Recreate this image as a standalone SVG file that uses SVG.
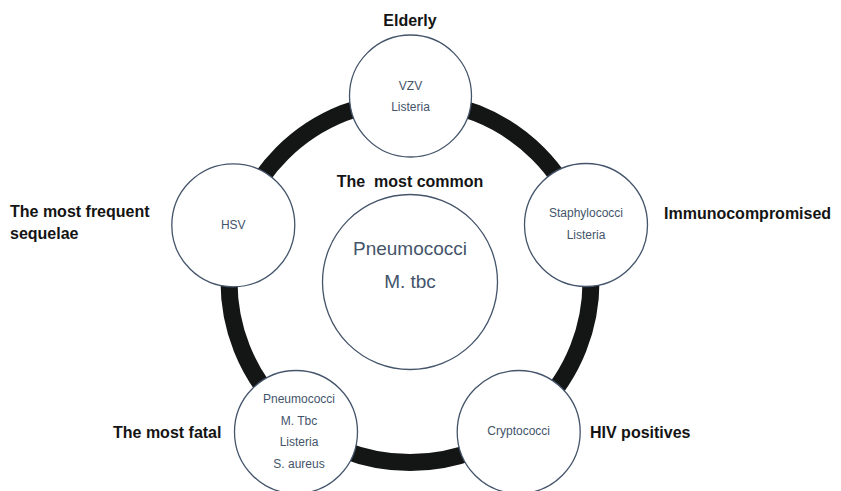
<svg xmlns="http://www.w3.org/2000/svg" width="841" height="491" viewBox="0 0 841 491">
<style>
.node{fill:#ffffff;stroke:#44546A;stroke-width:1.3}
.nt{font-family:"Liberation Sans",Arial,sans-serif;font-size:12px;fill:#44546A;text-anchor:middle}
.ct{font-family:"Liberation Sans",Arial,sans-serif;font-size:19px;fill:#44546A;text-anchor:middle}
.lbl{font-family:"Liberation Sans",Arial,sans-serif;font-size:16px;font-weight:bold;fill:#141414}
</style>
<rect width="841" height="491" fill="#ffffff"/>
<g id="connectors">
<circle cx="410" cy="281.5" r="181" fill="none" stroke="#141515" stroke-width="17"/>
</g>
<g id="center">
<circle class="node" cx="410" cy="282" r="87.5"/>
<text class="ct" x="410" y="255">Pneumococci</text>
<text class="ct" x="410" y="288">M. tbc</text>
<text class="lbl" x="410" y="187" text-anchor="middle" xml:space="preserve">The  most common</text>
</g>
<g id="elderly">
<circle class="node" cx="410.5" cy="96" r="61"/>
<text class="nt" x="410.5" y="90">VZV</text>
<text class="nt" x="410.5" y="111">Listeria</text>
<text class="lbl" x="410" y="26" text-anchor="middle">Elderly</text>
</g>
<g id="immunocompromised">
<circle class="node" cx="586" cy="225" r="61.5"/>
<text class="nt" x="586" y="217">Staphylococci</text>
<text class="nt" x="586" y="239">Listeria</text>
<text class="lbl" x="664" y="219">Immunocompromised</text>
</g>
<g id="hiv">
<circle class="node" cx="518.7" cy="432" r="61.5"/>
<text class="nt" x="518.7" y="435">Cryptococci</text>
<text class="lbl" x="590" y="438">HIV positives</text>
</g>
<g id="fatal">
<circle class="node" cx="296" cy="432" r="61.5"/>
<text class="nt" x="299" y="403">Pneumococci</text>
<text class="nt" x="299" y="424.5">M. Tbc</text>
<text class="nt" x="299" y="446">Listeria</text>
<text class="nt" x="299" y="467.5">S. aureus</text>
<text class="lbl" x="113" y="438">The most fatal</text>
</g>
<g id="sequelae">
<circle class="node" cx="233.3" cy="225.3" r="61.5"/>
<text class="nt" x="233.3" y="229">HSV</text>
<text class="lbl" x="10" y="217">The most frequent</text>
<text class="lbl" x="10" y="239">sequelae</text>
</g>
</svg>
